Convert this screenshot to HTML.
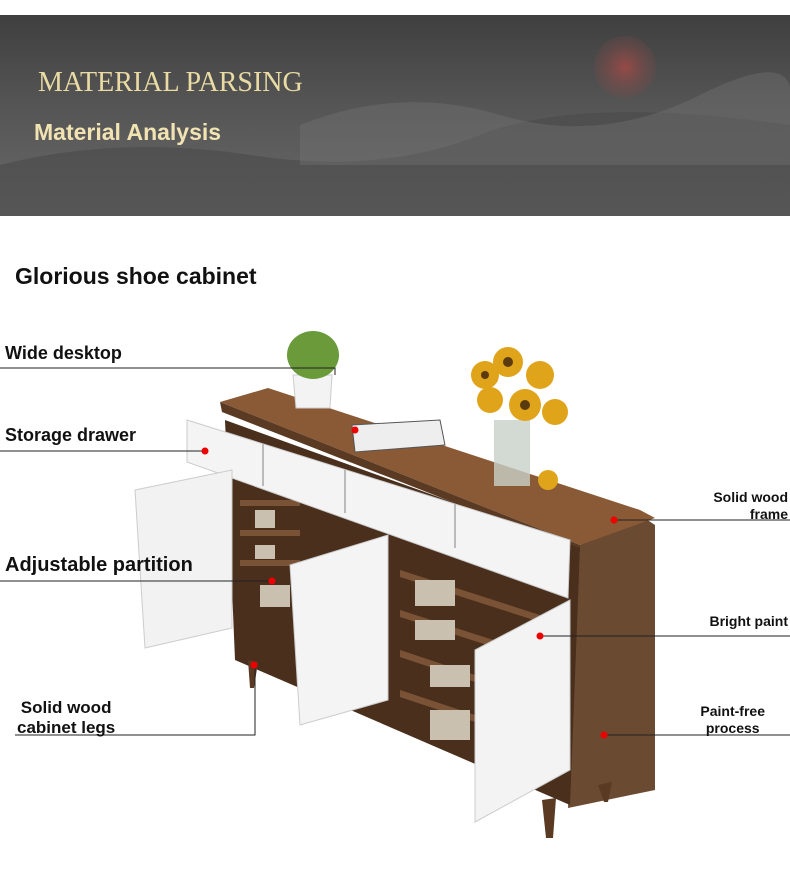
<!DOCTYPE html>
<html><head><style>
body{margin:0;width:790px;height:874px;background:#fff;position:relative;overflow:hidden;font-family:"Liberation Sans",sans-serif}
.ban{position:absolute;left:0;top:15px;width:790px;height:201px;background:linear-gradient(180deg,#3f3f3f 0%,#555 45%,#5e5e5e 70%,#6a6a6a 100%)}
.t{position:absolute;color:#111;font-weight:bold;font-size:18px;white-space:nowrap}
.r{text-align:right;font-size:14px;line-height:17px}
</style></head><body>
<div class="ban">
<svg width="790" height="201" style="position:absolute;left:0;top:0">
<defs><radialGradient id="s"><stop offset="0" stop-color="#b04a45"/><stop offset="1" stop-color="#7a4a48" stop-opacity="0.3"/></radialGradient></defs>
<circle cx="625" cy="52" r="31" fill="url(#s)" opacity="0.75"/>
<path d="M0 150 Q120 120 250 140 T480 120 T790 110 L790 201 L0 201Z" fill="#4a4a4a" opacity="0.6"/>
<path d="M300 110 Q400 70 500 100 T700 80 T790 90 L790 150 L300 150Z" fill="#777" opacity="0.35"/>
</svg>
<div style="position:absolute;left:38px;top:52px;font-family:'Liberation Serif',serif;font-size:28px;color:#e9dba3">MATERIAL PARSING</div>
<div style="position:absolute;left:34px;top:104px;font-weight:bold;font-size:23px;color:#f1e4b2">Material Analysis</div>
</div>
<div class="t" style="left:15px;top:263px;font-size:23px">Glorious shoe cabinet</div>
<svg width="790" height="874" style="position:absolute;left:0;top:0">
<polygon points="580,545 640,515 655,525 655,790 568,808" fill="#6b4a32"/>
<polygon points="220,402 268,388 640,510 655,518 580,545" fill="#8a5a36"/>
<polygon points="220,402 580,545 580,552 222,412" fill="#5a3a22"/>
<polygon points="225,420 580,548 570,805 235,660" fill="#4a2f1d"/>
<g fill="#7a5236">
<rect x="240" y="500" width="60" height="6"/><rect x="240" y="530" width="60" height="6"/><rect x="240" y="560" width="60" height="6"/>
<polygon points="400,570 540,615 540,622 400,577"/><polygon points="400,610 540,655 540,662 400,617"/><polygon points="400,650 475,675 475,682 400,657"/><polygon points="400,690 475,715 475,722 400,697"/>
</g>
<g fill="#c9c0b0"><rect x="255" y="510" width="20" height="18"/><rect x="255" y="545" width="20" height="14"/><rect x="260" y="585" width="30" height="22"/><rect x="415" y="580" width="40" height="26"/><rect x="415" y="620" width="40" height="20"/><rect x="430" y="665" width="40" height="22"/><rect x="430" y="710" width="40" height="30"/></g>
<polygon points="187,420 570,540 568,598 187,462" fill="#f4f4f4" stroke="#ccc"/>
<g stroke="#bbb" stroke-width="2"><line x1="263" y1="444" x2="263" y2="486"/><line x1="345" y1="470" x2="345" y2="513"/><line x1="455" y1="504" x2="455" y2="548"/></g>
<polygon points="135,490 232,470 232,628 145,648" fill="#f2f2f2" stroke="#ccc"/>
<polygon points="290,565 388,535 388,700 300,725" fill="#f4f4f4" stroke="#ccc"/>
<polygon points="475,650 570,600 570,770 475,822" fill="#f3f3f3" stroke="#ccc"/>
<polygon points="248,660 258,662 254,688 250,688" fill="#5a3a22"/>
<polygon points="542,800 556,798 553,838 546,838" fill="#5a3a22"/>
<polygon points="598,785 612,782 608,802 604,802" fill="#5a3a22"/>
<polygon points="293,375 332,375 330,408 296,408" fill="#f3f3f3" stroke="#ccc"/>
<ellipse cx="313" cy="355" rx="26" ry="24" fill="#6a9a3a"/>
<polygon points="352,425 440,420 445,445 355,452" fill="#eee" stroke="#555"/>
<rect x="494" y="420" width="36" height="66" fill="#c8d0c8" opacity="0.8"/>
<g fill="#e0a41a"><circle cx="485" cy="375" r="14"/><circle cx="508" cy="362" r="15"/><circle cx="540" cy="375" r="14"/><circle cx="525" cy="405" r="16"/><circle cx="490" cy="400" r="13"/><circle cx="555" cy="412" r="13"/><circle cx="548" cy="480" r="10"/></g>
<g fill="#5b3a10"><circle cx="508" cy="362" r="5"/><circle cx="525" cy="405" r="5"/><circle cx="485" cy="375" r="4"/></g>
<g stroke="#222" stroke-width="1" fill="none">
<polyline points="0,368 335,368 335,375"/>
<polyline points="0,451 205,451"/>
<polyline points="0,581 272,581"/>
<polyline points="15,735 255,735 255,665"/>
<polyline points="614,520 790,520"/>
<polyline points="540,636 790,636"/>
<polyline points="604,735 790,735"/>
</g>
<g fill="#e00"><circle cx="205" cy="451" r="3.5"/><circle cx="355" cy="430" r="3.5"/><circle cx="272" cy="581" r="3.5"/><circle cx="614" cy="520" r="3.5"/><circle cx="540" cy="636" r="3.5"/><circle cx="604" cy="735" r="3.5"/><circle cx="254" cy="665" r="3.5"/></g>
</svg>
<div class="t" style="left:5px;top:343px">Wide desktop</div>
<div class="t" style="left:5px;top:425px">Storage drawer</div>
<div class="t" style="left:5px;top:554px;font-size:20px">Adjustable partition</div>
<div class="t" style="left:17px;top:698px;text-align:center;line-height:20px;font-size:17px">Solid wood<br>cabinet legs</div>
<div class="t r" style="right:2px;top:489px">Solid wood<br>frame</div>
<div class="t r" style="right:2px;top:613px">Bright paint</div>
<div class="t r" style="right:25px;top:703px;text-align:center">Paint-free<br>process</div>
</body></html>
